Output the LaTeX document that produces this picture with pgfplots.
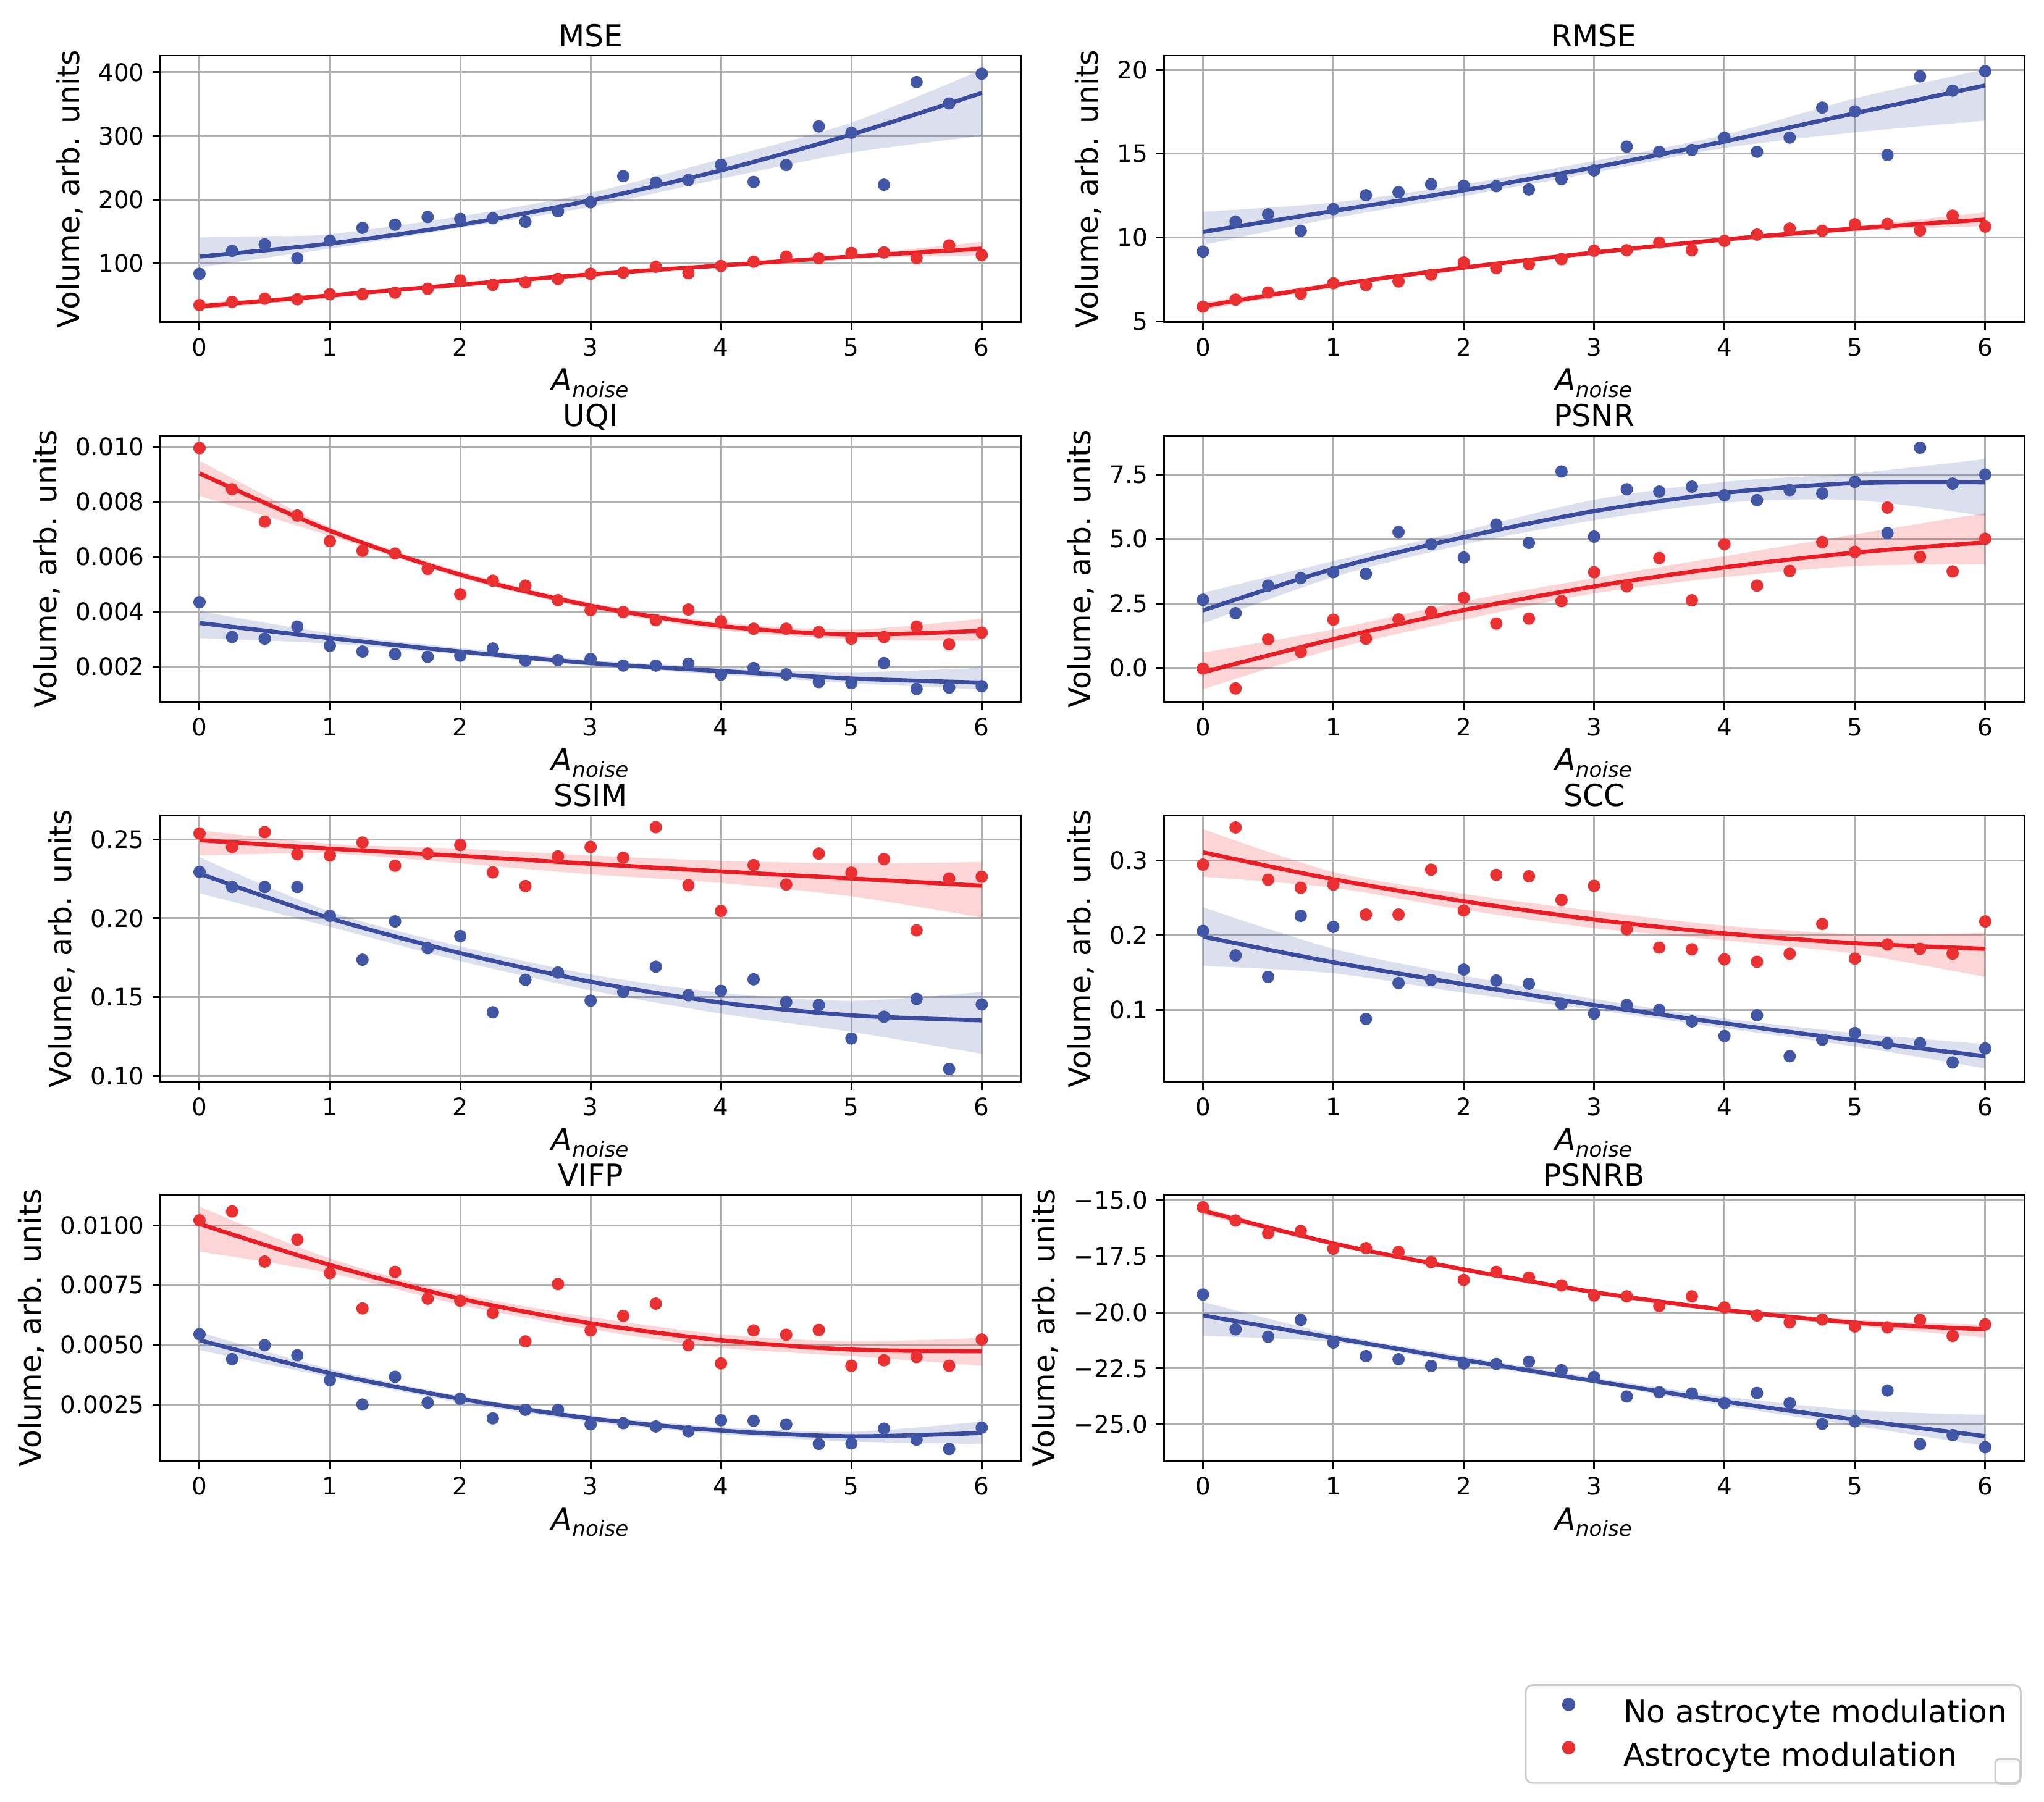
\documentclass[border=0pt]{standalone}
\usepackage{fontspec}
\setmainfont{DejaVu Sans}
\usepackage{pgfplots}
\pgfplotsset{compat=1.18}
\usepgfplotslibrary{fillbetween}

\definecolor{blueln}{RGB}{58,76,160}
\definecolor{bluept}{RGB}{66,86,166}
\definecolor{redln}{RGB}{236,28,36}
\definecolor{redpt}{RGB}{234,48,48}
\definecolor{gridgray}{RGB}{176,176,176}
\definecolor{leggray}{RGB}{204,204,204}

\newcommand{\ticksize}{\fontsize{10.5}{12}\selectfont}
\newcommand{\labsize}{\fontsize{13.2}{15}\selectfont}
\newcommand{\legsize}{\fontsize{13.6}{16}\selectfont}

% confidence band: colour, id, upper edge, lower edge
\newcommand{\band}[4]{%
  \addplot[name path=#2u, draw=none, smooth, forget plot] coordinates {#3};
  \addplot[name path=#2l, draw=none, smooth, forget plot] coordinates {#4};
  \addplot[fill=#1, fill opacity=0.18, draw=none, forget plot] fill between[of=#2u and #2l];
}

\pgfplotsset{
  panel/.style={
    scale only axis, width=376.1pt, height=116.6pt, anchor=north west,
    xmin=-0.3, xmax=6.3, xtick={0,1,2,3,4,5,6}, xticklabels={0,1,2,3,4,5,6},
    grid=major, major grid style={line width=0.8pt, gridgray},
    axis line style={line width=0.8pt, black},
    tick align=outside, tick pos=left, major tick length=3.5pt,
    every tick/.style={black, line width=0.8pt},
    tick label style={font=\ticksize},
    /pgf/number format/assume math mode=true,
    every axis title shift=0pt,
    title style={font=\labsize, anchor=base, yshift=3.8pt},
    label style={font=\labsize},
    xlabel style={yshift=1.5pt},
    xlabel={\textit{A}\textsubscript{\textit{noise}}},
    ylabel={Volume, arb. units},
    scaled y ticks=false,
  },
  scat/.style={only marks, mark=*, mark size=2.5pt, color=#1, mark options={draw=none, fill=#1}},
  fitln/.style={smooth, no markers, line width=1.8pt, color=#1, forget plot},
}

\begin{document}
\begin{tikzpicture}

% ---------------- MSE
\begin{axis}[panel, at={(70.1pt,-24.3pt)}, title={MSE},
  ymin=8, ymax=426, ytick={100,200,300,400}, yticklabels={100,200,300,400}]
\addplot[scat=bluept] coordinates {(0,84)(0.25,120)(0.5,130)(0.75,108.5)(1,136)(1.25,156)(1.5,161)(1.75,173)(2,170)(2.25,171)(2.5,165.5)(2.75,182)(3,196)(3.25,237)(3.5,227)(3.75,231)(4,255)(4.25,228)(4.5,254.5)(4.75,315)(5,305)(5.25,223.6)(5.5,384.5)(5.75,351)(6,397.6)};
\band{blueln}{a}{(0,141)(0.5,143)(1,146)(2,174)(3,211)(4,264)(5,321)(6,404)}{(0,94)(0.5,109)(1,123.5)(2,156)(3,189)(4,233)(5,274)(6,300)}
\addplot[fitln=blueln] coordinates {(0,111)(1,131.4)(2,160.7)(3,199)(4,246.1)(5,302.3)(6,367.5)};
\addplot[scat=redpt] coordinates {(0,35)(0.25,40)(0.5,45)(0.75,44)(1,52)(1.25,52)(1.5,54.5)(1.75,60.6)(2,73.6)(2.25,66.7)(2.5,70.7)(2.75,76)(3,84)(3.25,86)(3.5,95)(3.75,85)(4,96.3)(4.25,103)(4.5,111)(4.75,108.5)(5,116.7)(5.25,117.5)(5.5,108.5)(5.75,128.5)(6,113.4)};
\band{redln}{b}{(0,38)(1,53)(2,69)(3,85)(4,99.5)(5,114)(6,134)}{(0,28)(1,46.5)(2,64.5)(3,81)(4,94.5)(5,108)(6,113)}
\addplot[fitln=redln] coordinates {(0,33)(1,50)(2,67)(3,83)(4,97)(5,111)(6,123.5)};
\end{axis}

% ---------------- RMSE
\begin{axis}[panel, at={(508.7pt,-24.3pt)}, title={RMSE},
  ymin=4.94, ymax=20.85, ytick={5,10,15,20}, yticklabels={5,10,15,20}]
\addplot[scat=bluept] coordinates {(0,9.16)(0.25,10.95)(0.5,11.38)(0.75,10.4)(1,11.69)(1.25,12.52)(1.5,12.70)(1.75,13.17)(2,13.09)(2.25,13.06)(2.5,12.86)(2.75,13.48)(3,14.0)(3.25,15.42)(3.5,15.11)(3.75,15.22)(4,15.96)(4.25,15.11)(4.5,15.96)(4.75,17.75)(5,17.52)(5.25,14.92)(5.5,19.61)(5.75,18.76)(6,19.92)};
\band{blueln}{a}{(0,11.54)(1,12.08)(2,13.17)(3,14.57)(4,16.12)(5,18.29)(6,20.03)}{(0,9.55)(1,11.15)(2,12.47)(3,13.87)(4,15.34)(5,16.27)(6,16.97)}
\addplot[fitln=blueln] coordinates {(0,10.33)(1,11.58)(2,12.81)(3,14.18)(4,15.73)(5,17.41)(6,19.07)};
\addplot[scat=redpt] coordinates {(0,5.87)(0.25,6.29)(0.5,6.72)(0.75,6.65)(1,7.27)(1.25,7.16)(1.5,7.38)(1.75,7.78)(2,8.51)(2.25,8.17)(2.5,8.40)(2.75,8.71)(3,9.21)(3.25,9.24)(3.5,9.70)(3.75,9.24)(4,9.80)(4.25,10.17)(4.5,10.53)(4.75,10.40)(5,10.79)(5.25,10.81)(5.5,10.42)(5.75,11.30)(6,10.65)};
\band{redln}{b}{(0,6.12)(1,7.30)(2,8.32)(3,9.22)(4,10.0)(5,10.68)(6,11.50)}{(0,5.67)(1,7.02)(2,8.08)(3,8.98)(4,9.76)(5,10.38)(6,10.68)}
\addplot[fitln=redln] coordinates {(0,5.90)(1,7.16)(2,8.20)(3,9.10)(4,9.88)(5,10.53)(6,11.07)};
\end{axis}

% ---------------- UQI
\begin{axis}[panel, at={(70.1pt,-190.35pt)}, title={UQI},
  ymin=0.00071, ymax=0.01042, ytick={0.002,0.004,0.006,0.008,0.010},
  yticklabels={0.002,0.004,0.006,0.008,0.010}]
\addplot[scat=bluept] coordinates {(0,0.00435)(0.25,0.00308)(0.5,0.00302)(0.75,0.00346)(1,0.00276)(1.25,0.00255)(1.5,0.00246)(1.75,0.00236)(2,0.00240)(2.25,0.00266)(2.5,0.00222)(2.75,0.00224)(3,0.00228)(3.25,0.00204)(3.5,0.00204)(3.75,0.00211)(4,0.00171)(4.25,0.00195)(4.5,0.00172)(4.75,0.00144)(5,0.00140)(5.25,0.00213)(5.5,0.00119)(5.75,0.00124)(6,0.00129)};
\band{blueln}{a}{(0,0.00402)(1,0.00322)(2,0.00268)(3,0.00224)(4,0.00197)(5,0.00180)(6,0.00196)}{(0,0.00304)(1,0.00284)(2,0.00244)(3,0.00203)(4,0.00171)(5,0.0014)(6,0.00117)}
\addplot[fitln=blueln] coordinates {(0,0.00359)(1,0.00304)(2,0.00255)(3,0.00213)(4,0.00184)(5,0.00157)(6,0.00142)};
\addplot[scat=redpt] coordinates {(0,0.00996)(0.25,0.00846)(0.5,0.00728)(0.75,0.00750)(1,0.00657)(1.25,0.00622)(1.5,0.00612)(1.75,0.00556)(2,0.00464)(2.25,0.00513)(2.5,0.00495)(2.75,0.00442)(3,0.00406)(3.25,0.00399)(3.5,0.00369)(3.75,0.00408)(4,0.00365)(4.25,0.00338)(4.5,0.00338)(4.75,0.00326)(5,0.00302)(5.25,0.00308)(5.5,0.00346)(5.75,0.00282)(6,0.00324)};
\band{redln}{b}{(0,0.0095)(1,0.00708)(2,0.00547)(3,0.00433)(4,0.00362)(5,0.00335)(6,0.00375)}{(0,0.00822)(1,0.00677)(2,0.00524)(3,0.00411)(4,0.00333)(5,0.00300)(6,0.00295)}
\addplot[fitln=redln] coordinates {(0,0.00904)(1,0.00695)(2,0.00535)(3,0.00422)(4,0.00348)(5,0.00317)(6,0.00331)};
\end{axis}

% ---------------- PSNR
\begin{axis}[panel, at={(508.7pt,-190.35pt)}, title={PSNR},
  ymin=-1.33, ymax=9.02, ytick={0,2.5,5,7.5}, yticklabels={0.0,2.5,5.0,7.5}]
\addplot[scat=bluept] coordinates {(0,2.64)(0.25,2.12)(0.5,3.19)(0.75,3.48)(1,3.71)(1.25,3.65)(1.5,5.27)(1.75,4.80)(2,4.28)(2.25,5.56)(2.5,4.85)(2.75,7.62)(3,5.09)(3.25,6.93)(3.5,6.84)(3.75,7.03)(4,6.70)(4.25,6.51)(4.5,6.90)(4.75,6.77)(5,7.22)(5.25,5.23)(5.5,8.54)(5.75,7.15)(6,7.5)};
\band{blueln}{a}{(0,2.91)(1,4.14)(2,5.32)(3,6.52)(4,7.22)(5,7.55)(6,8.10)}{(0,1.72)(1,3.52)(2,4.78)(3,5.73)(4,6.41)(5,6.51)(6,5.89)}
\addplot[fitln=blueln] coordinates {(0,2.23)(1,3.84)(2,5.07)(3,6.08)(4,6.79)(5,7.17)(6,7.20)};
\addplot[scat=redpt] coordinates {(0,-0.03)(0.25,-0.80)(0.5,1.11)(0.75,0.62)(1,1.87)(1.25,1.13)(1.5,1.88)(1.75,2.17)(2,2.72)(2.25,1.72)(2.5,1.91)(2.75,2.59)(3,3.71)(3.25,3.16)(3.5,4.26)(3.75,2.62)(4,4.80)(4.25,3.19)(4.5,3.76)(4.75,4.88)(5,4.50)(5.25,6.22)(5.5,4.31)(5.75,3.74)(6,5.01)};
\band{redln}{b}{(0,0.59)(1,1.49)(2,2.58)(3,3.48)(4,4.33)(5,5.18)(6,6.01)}{(0,-0.83)(1,0.73)(2,1.87)(3,2.89)(4,3.52)(5,3.95)(6,4.02)}
\addplot[fitln=redln] coordinates {(0,-0.17)(1,1.11)(2,2.24)(3,3.16)(4,3.90)(5,4.47)(6,4.87)};
\end{axis}

% ---------------- SSIM
\begin{axis}[panel, at={(70.1pt,-356.4pt)}, title={SSIM},
  ymin=0.0963, ymax=0.2653, ytick={0.10,0.15,0.20,0.25}, yticklabels={0.10,0.15,0.20,0.25}]
\addplot[scat=bluept] coordinates {(0,0.2294)(0.25,0.2198)(0.5,0.2198)(0.75,0.2198)(1,0.2015)(1.25,0.1737)(1.5,0.1980)(1.75,0.1810)(2,0.1887)(2.25,0.1404)(2.5,0.1610)(2.75,0.1656)(3,0.1478)(3.25,0.1533)(3.5,0.1693)(3.75,0.1512)(4,0.1540)(4.25,0.1613)(4.5,0.1469)(4.75,0.1450)(5,0.1238)(5.25,0.1376)(5.5,0.1489)(5.75,0.1045)(6,0.1454)};
\band{blueln}{a}{(0,0.2387)(1,0.2042)(2,0.1822)(3,0.1644)(4,0.1528)(5,0.1477)(6,0.1533)}{(0,0.2158)(1,0.1946)(2,0.1729)(3,0.1543)(4,0.1396)(5,0.128)(6,0.1141)}
\addplot[fitln=blueln] coordinates {(0,0.2283)(1,0.2000)(2,0.1779)(3,0.1598)(4,0.1466)(5,0.1385)(6,0.1353)};
\addplot[scat=redpt] coordinates {(0,0.2537)(0.25,0.2452)(0.5,0.2546)(0.75,0.2406)(1,0.2398)(1.25,0.248)(1.5,0.2333)(1.75,0.2410)(2,0.2464)(2.25,0.2291)(2.5,0.2204)(2.75,0.2392)(3,0.2452)(3.25,0.2384)(3.5,0.2577)(3.75,0.2209)(4,0.2046)(4.25,0.2337)(4.5,0.2214)(4.75,0.2410)(5,0.2289)(5.25,0.2375)(5.5,0.1923)(5.75,0.2252)(6,0.2263)};
\band{redln}{b}{(0,0.2557)(1,0.2472)(2,0.2441)(3,0.2398)(4,0.2364)(5,0.2348)(6,0.2356)}{(0,0.2398)(1,0.241)(2,0.2348)(3,0.2279)(4,0.2224)(5,0.2139)(6,0.2005)}
\addplot[fitln=redln] coordinates {(0,0.2495)(1,0.2441)(2,0.2395)(3,0.2345)(4,0.2297)(5,0.2252)(6,0.2206)};
\end{axis}

% ---------------- SCC
\begin{axis}[panel, at={(508.7pt,-356.4pt)}, title={SCC},
  ymin=0.0036, ymax=0.3605, ytick={0.1,0.2,0.3}, yticklabels={0.1,0.2,0.3}]
\addplot[scat=bluept] coordinates {(0,0.2056)(0.25,0.1729)(0.5,0.1441)(0.75,0.2258)(1,0.2111)(1.25,0.0879)(1.5,0.1359)(1.75,0.1399)(2,0.1539)(2.25,0.1392)(2.5,0.1350)(2.75,0.1082)(3,0.0951)(3.25,0.1065)(3.5,0.1)(3.75,0.0846)(4,0.0650)(4.25,0.0928)(4.5,0.0379)(4.75,0.0601)(5,0.0690)(5.25,0.0552)(5.5,0.0552)(5.75,0.0297)(6,0.0484)};
\band{blueln}{a}{(0,0.2373)(1,0.1817)(2,0.1458)(3,0.1147)(4,0.0886)(5,0.069)(6,0.0542)}{(0,0.1588)(1,0.149)(2,0.1229)(3,0.1)(4,0.0755)(5,0.051)(6,0.0216)}
\addplot[fitln=blueln] coordinates {(0,0.198)(1,0.1637)(2,0.1343)(3,0.1065)(4,0.082)(5,0.0592)(6,0.0379)};
\addplot[scat=redpt] coordinates {(0,0.2944)(0.25,0.3441)(0.5,0.2742)(0.75,0.2634)(1,0.2676)(1.25,0.2275)(1.5,0.2275)(1.75,0.2876)(2,0.233)(2.25,0.2807)(2.5,0.2788)(2.75,0.2471)(3,0.266)(3.25,0.2078)(3.5,0.1833)(3.75,0.1810)(4,0.1676)(4.25,0.1644)(4.5,0.1752)(4.75,0.2150)(5,0.1686)(5.25,0.1876)(5.5,0.1817)(5.75,0.1752)(6,0.2183)};
\band{redln}{b}{(0,0.3418)(1,0.2846)(2,0.2552)(3,0.2324)(4,0.2127)(5,0.2013)(6,0.2029)}{(0,0.2781)(1,0.2634)(2,0.234)(3,0.2095)(4,0.1931)(5,0.1752)(6,0.1441)}
\addplot[fitln=redln] coordinates {(0,0.3108)(1,0.2748)(2,0.2454)(3,0.2209)(4,0.2023)(5,0.1892)(6,0.1817)};
\end{axis}

% ---------------- VIFP
\begin{axis}[panel, at={(70.1pt,-522.2pt)}, title={VIFP},
  ymin=0.00013, ymax=0.01129, ytick={0.0025,0.005,0.0075,0.01},
  yticklabels={0.0025,0.0050,0.0075,0.0100}]
\addplot[scat=bluept] coordinates {(0,0.00544)(0.25,0.00440)(0.5,0.00498)(0.75,0.00456)(1,0.00352)(1.25,0.0025)(1.5,0.00366)(1.75,0.00258)(2,0.00274)(2.25,0.00192)(2.5,0.00228)(2.75,0.00228)(3,0.00167)(3.25,0.00172)(3.5,0.00158)(3.75,0.00138)(4,0.00184)(4.25,0.00182)(4.5,0.00167)(4.75,0.00085)(5,0.00087)(5.25,0.00149)(5.5,0.00103)(5.75,0.00064)(6,0.00153)};
\band{blueln}{a}{(0,0.00553)(1,0.00399)(2,0.00286)(3,0.00204)(4,0.00156)(5,0.00136)(6,0.00179)}{(0,0.00478)(1,0.00364)(2,0.00258)(3,0.00177)(4,0.00126)(5,0.00095)(6,0.00085)}
\addplot[fitln=blueln] coordinates {(0,0.00519)(1,0.00381)(2,0.00274)(3,0.00192)(4,0.00141)(5,0.00117)(6,0.00131)};
\addplot[scat=redpt] coordinates {(0,0.01021)(0.25,0.01058)(0.5,0.00848)(0.75,0.00940)(1,0.00800)(1.25,0.00652)(1.5,0.00805)(1.75,0.00693)(2,0.00684)(2.25,0.00633)(2.5,0.00514)(2.75,0.00754)(3,0.00560)(3.25,0.00621)(3.5,0.00672)(3.75,0.00498)(4,0.00422)(4.25,0.00560)(4.5,0.00542)(4.75,0.00562)(5,0.00412)(5.25,0.00435)(5.5,0.00449)(5.75,0.00412)(6,0.00522)};
\band{redln}{b}{(0,0.01078)(1,0.00861)(2,0.00713)(3,0.00616)(4,0.00544)(5,0.00514)(6,0.00529)}{(0,0.0089)(1,0.008)(2,0.00667)(3,0.00565)(4,0.00488)(5,0.00453)(6,0.00412)}
\addplot[fitln=redln] coordinates {(0,0.01006)(1,0.00834)(2,0.00693)(3,0.0059)(4,0.00519)(5,0.0048)(6,0.00473)};
\end{axis}

% ---------------- PSNRB (carries the legend)
\begin{axis}[panel, at={(508.7pt,-522.2pt)}, title={PSNRB},
  ymin=-26.63, ymax=-14.75, ytick={-25,-22.5,-20,-17.5,-15},
  yticklabels={−25.0,−22.5,−20.0,−17.5,−15.0},
  legend cell align=left,
  legend style={at={(0.997,-0.836)}, anchor=north east, draw=leggray,
    line width=0.8pt, rounded corners=3pt, font=\legsize,
    inner xsep=6pt, inner ysep=6pt, row sep=7pt,
    nodes={inner sep=0pt}, column sep=0pt},
  legend image code/.code={\path[draw=none, fill=none] (-12.8pt,0pt) -- (23.9pt,0pt);
    \path[#1, draw=none] plot[mark=*] coordinates {(0pt,3.5pt)};}]
\addplot[scat=bluept] coordinates {(0,-19.21)(0.25,-20.76)(0.5,-21.09)(0.75,-20.34)(1,-21.35)(1.25,-21.95)(1.5,-22.09)(1.75,-22.39)(2,-22.28)(2.25,-22.30)(2.5,-22.19)(2.75,-22.58)(3,-22.88)(3.25,-23.75)(3.5,-23.56)(3.75,-23.62)(4,-24.04)(4.25,-23.59)(4.5,-24.04)(4.75,-24.97)(5,-24.86)(5.25,-23.48)(5.5,-25.87)(5.75,-25.47)(6,-26.01)};
\addlegendentry{No astrocyte modulation}
\band{blueln}{a}{(0,-19.54)(1,-20.97)(2,-21.95)(3,-22.91)(4,-23.75)(5,-24.35)(6,-24.57)}{(0,-21.05)(1,-21.33)(2,-22.28)(3,-23.17)(4,-24.16)(5,-25.05)(6,-25.95)}
\addplot[fitln=blueln] coordinates {(0,-20.14)(1,-21.14)(2,-22.12)(3,-23.06)(4,-23.97)(5,-24.78)(6,-25.52)};
\addplot[scat=redpt] coordinates {(0,-15.32)(0.25,-15.91)(0.5,-16.48)(0.75,-16.38)(1,-17.17)(1.25,-17.14)(1.5,-17.31)(1.75,-17.76)(2,-18.56)(2.25,-18.20)(2.5,-18.45)(2.75,-18.80)(3,-19.25)(3.25,-19.29)(3.5,-19.72)(3.75,-19.29)(4,-19.78)(4.25,-20.14)(4.5,-20.45)(4.75,-20.32)(5,-20.63)(5.25,-20.67)(5.5,-20.34)(5.75,-21.05)(6,-20.54)};
\addlegendentry{Astrocyte modulation}
\band{redln}{b}{(0,-15.32)(1,-16.85)(2,-18.0)(3,-19.02)(4,-19.80)(5,-20.33)(6,-20.55)}{(0,-15.65)(1,-17.01)(2,-18.18)(3,-19.18)(4,-19.98)(5,-20.6)(6,-21.12)}
\addplot[fitln=redln] coordinates {(0,-15.48)(1,-16.93)(2,-18.09)(3,-19.10)(4,-19.89)(5,-20.46)(6,-20.76)};
\end{axis}

% small empty frame at the legend's lower right corner
\draw[leggray, line width=0.8pt, rounded corners=2pt] (872.1pt,-769pt) rectangle (882.9pt,-779.8pt);

\pgfresetboundingbox
\path[use as bounding box] (0pt,0pt) rectangle (893.4pt,-787.6pt);
\end{tikzpicture}
\end{document}
